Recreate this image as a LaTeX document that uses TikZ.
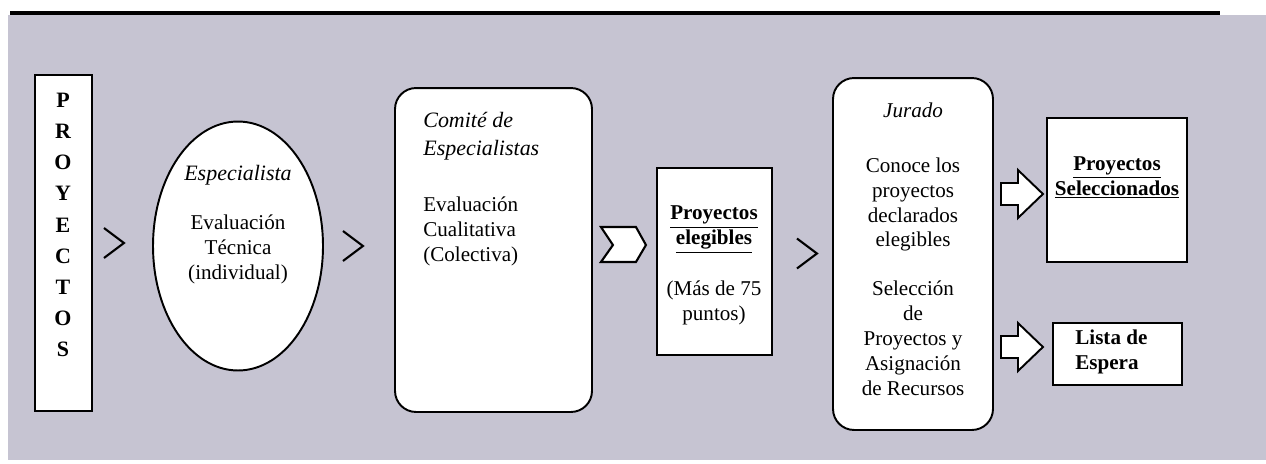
\documentclass[tikz,border=0pt]{standalone}
\usepackage{fontspec}
\setmainfont{Liberation Serif}
\usetikzlibrary{positioning,calc,shapes.geometric}
\definecolor{fondo}{RGB}{198,196,210}
\tikzset{
  caja/.style={draw=black, line width=1.1pt, fill=white, inner sep=0pt},
  texto/.style={align=center, inner sep=0pt, font=\fontsize{12}{14.2}\selectfont},
  chev/.style={line width=1.2pt},
  flecha/.style={draw=black, line width=1.1pt, fill=white}
}
\newcommand{\chevron}[1]{\draw[chev] ($(#1)+(-20,-15)$) -- (#1) -- ($(#1)+(-20,15)$);}
\newcommand{\blockarrow}[1]{\draw[flecha] ($(#1)+(-42,-11)$) -- ($(#1)+(-25,-11)$) -- ($(#1)+(-25,-24)$)
  -- (#1) -- ($(#1)+(-25,24)$) -- ($(#1)+(-25,11)$) -- ($(#1)+(-42,11)$) -- cycle;}
\begin{document}
\begin{tikzpicture}[x=0.02cm, y=-0.02cm]
\useasboundingbox (0,0) rectangle (1266,463);
% fondo y linea superior
\fill[fondo] (8,15) rectangle (1266,460);
\draw[line width=2.3pt] (10,13) -- (1220,13);

% cajas
\node[caja, minimum width=1.14cm, minimum height=6.72cm] (proy) at (63.5,243) {};
\node[caja, ellipse, minimum width=3.4cm, minimum height=4.98cm] (esp) at (238,246) {};
\node[caja, rounded corners=0.42cm, minimum width=3.94cm, minimum height=6.48cm] (comite) at (493.5,250) {};
\node[caja, minimum width=2.3cm, minimum height=3.74cm] (eleg) at (714.5,261.5) {};
\node[caja, rounded corners=0.42cm, minimum width=3.2cm, minimum height=7.04cm] (jurado) at (913,254) {};
\node[caja, minimum width=2.8cm, minimum height=2.88cm] (selec) at (1117,190) {};
\node[caja, minimum width=2.58cm, minimum height=1.24cm] (lista) at (1117.5,354) {};

% textos
\node[texto, font=\bfseries\fontsize{12.5}{17.7}\selectfont] (tproy) at (63,225) {P\\R\\O\\Y\\E\\C\\T\\O\\S};
\node[texto, font=\itshape\fontsize{12.5}{14.2}\selectfont] (tesp) at (238,175) {Especialista};
\node[texto] (tesp2) at (238,249) {Evaluación\\Técnica\\(individual)};
\node[texto, align=left, anchor=west, font=\itshape\fontsize{12.5}{16}\selectfont] (tcom) at (423,136) {Comité de\\Especialistas};
\node[texto, align=left, anchor=west] (tcom2) at (423,231) {Evaluación\\Cualitativa\\(Colectiva)};
\node[texto, font=\bfseries\fontsize{12}{14.2}\selectfont] (teleg) at (714,229.5) {\underline{Proyectos}\\\underline{elegibles}};
\node[texto] (teleg2) at (714,302.5) {(Más de 75\\puntos)};
\node[texto, font=\itshape\fontsize{12}{14.2}\selectfont] (tjur) at (913,110) {Jurado};
\node[texto] (tjur2) at (913,204.5) {Conoce los\\proyectos\\declarados\\elegibles};
\node[texto] (tjur3) at (913,338) {Selección\\de\\Proyectos y\\Asignación\\de Recursos};
\node[texto, font=\bfseries\fontsize{12}{14.2}\selectfont] (tsel) at (1117,177.5) {\underline{Proyectos}\\\underline{Seleccionados}};
\node[texto, align=left, anchor=west, font=\bfseries\fontsize{12}{14.2}\selectfont] (tlis) at (1075,351.5) {Lista de\\Espera};

% flechas
\coordinate (ch1) at ($(proy.east)+(31,0)$);
\coordinate (ch2) at ($(esp.east)+(39,0)$);
\coordinate (ch3) at ($(eleg.east)+(44,-8)$);
\chevron{ch1}
\chevron{ch2}
\chevron{ch3}
\draw[flecha, line width=1.2pt] ($(comite.east)+(8,-23)$) coordinate (f1) -- ++(35,0) -- ++(10,18) -- ++(-10,17) -- ++(-35,0) -- ++(12,-17) -- cycle;
\coordinate (b1) at ($(jurado.east)+(49,-60)$);
\coordinate (b2) at ($(jurado.east)+(49,93)$);
\blockarrow{b1}
\blockarrow{b2}
\end{tikzpicture}
\end{document}
